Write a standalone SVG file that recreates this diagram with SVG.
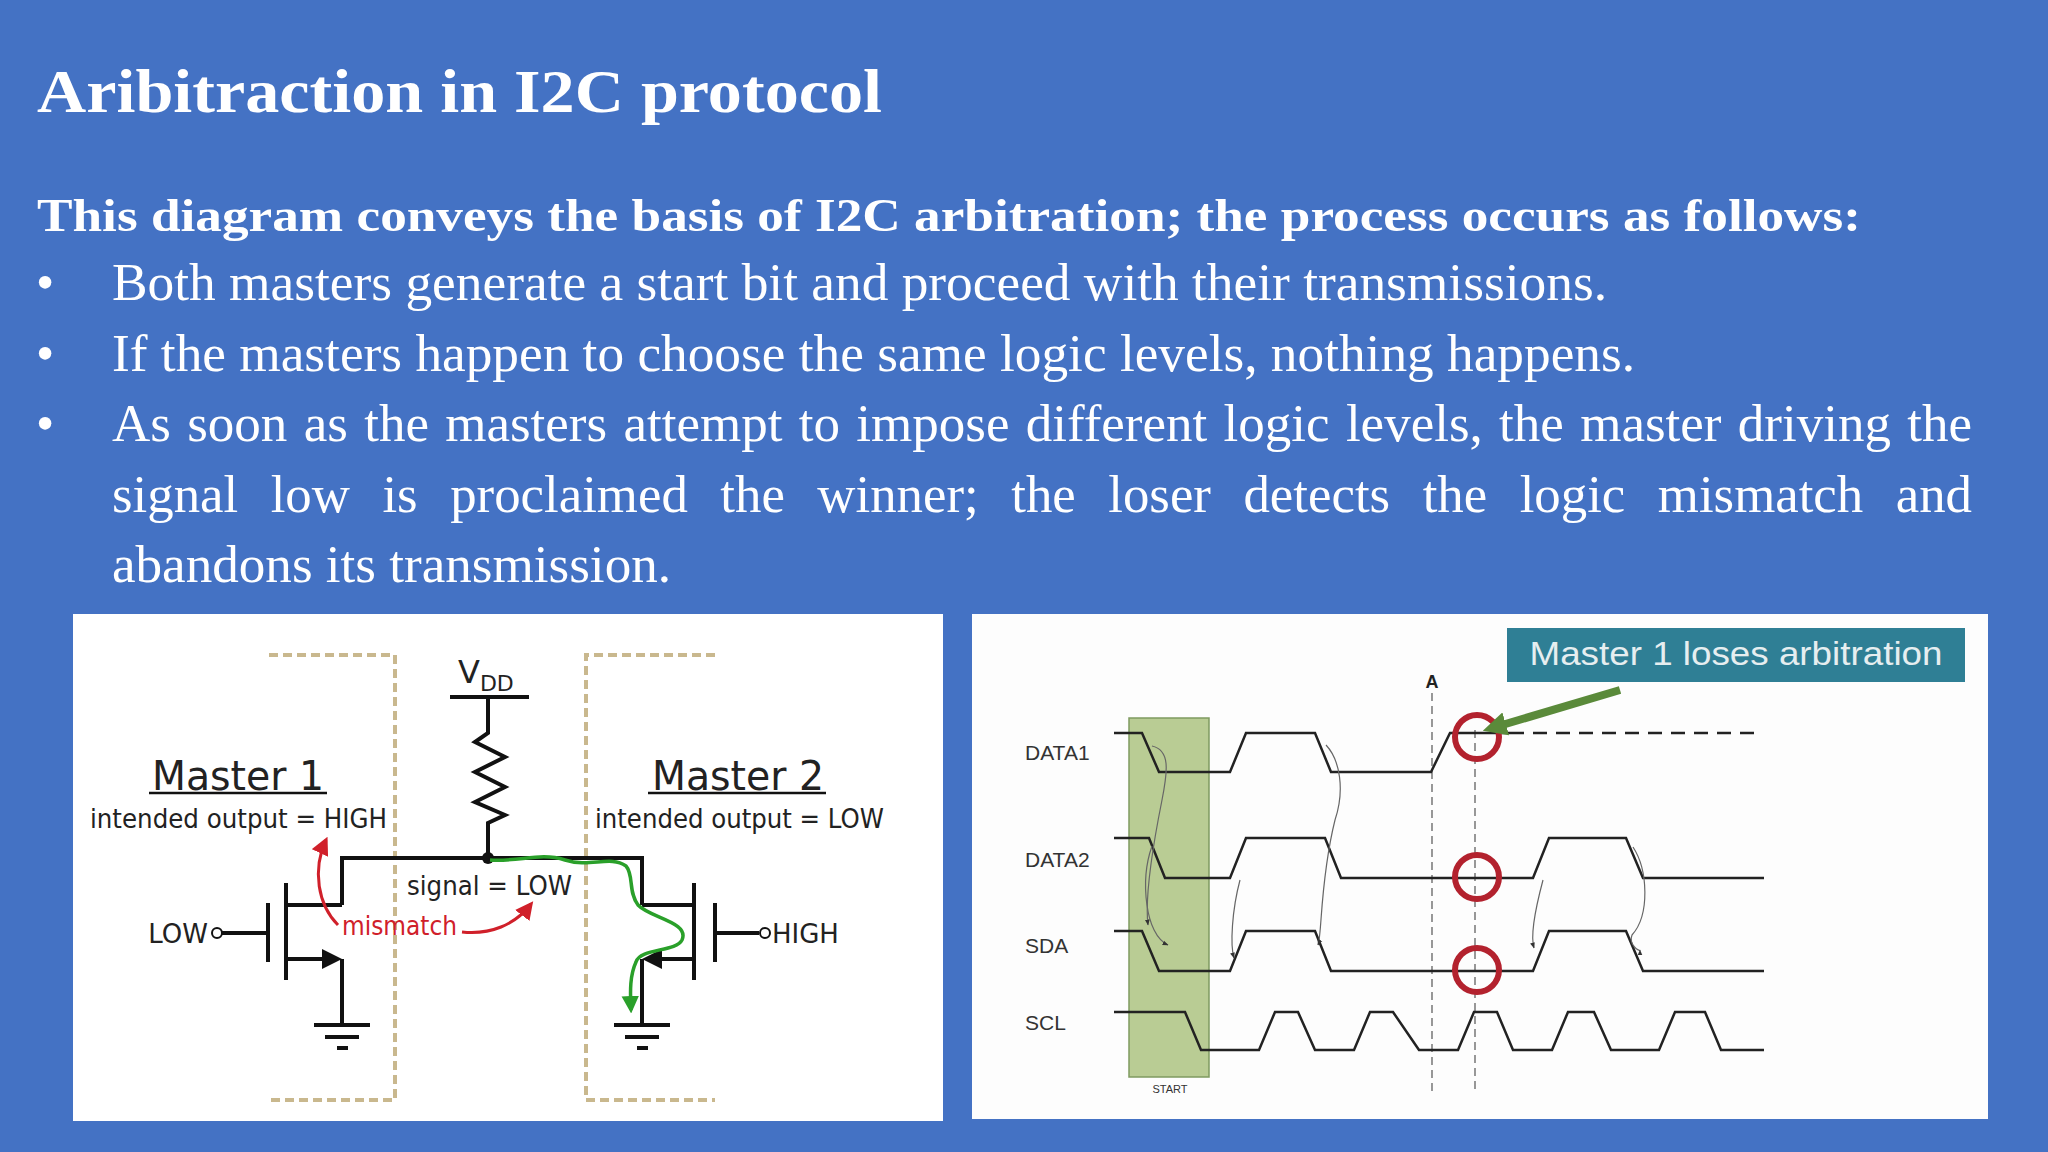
<svg xmlns="http://www.w3.org/2000/svg" width="2048" height="1152" viewBox="0 0 2048 1152">
<defs>
<style>
.ser{font-family:"Liberation Serif","Times New Roman",serif;fill:#fff}
.sch{font-family:"DejaVu Sans",Verdana,sans-serif;fill:#222}
.w{fill:none;stroke:#111;stroke-width:4}
.dash{fill:none;stroke:#c9b88e;stroke-width:4;stroke-dasharray:9 5}
.wave{fill:none;stroke:#222;stroke-width:2.5}
.thin{fill:none;stroke:#666;stroke-width:1.2;marker-end:url(#sa)}
.circ{fill:none;stroke:#b3222e;stroke-width:6}
.lab{font-family:"Liberation Sans",Arial,sans-serif;font-size:21px;fill:#333}
</style>
<marker id="ra" viewBox="0 0 10 10" refX="8" refY="5" markerWidth="6" markerHeight="6" orient="auto"><path d="M0,0L10,5L0,10z" fill="#d0202a"/></marker>
<marker id="ga" viewBox="0 0 10 10" refX="8" refY="5" markerWidth="5" markerHeight="6" orient="auto"><path d="M0,0L10,5L0,10z" fill="#2aa02a"/></marker>
<marker id="sa" viewBox="0 0 10 10" refX="9" refY="5" markerWidth="5" markerHeight="5" orient="auto"><path d="M0,1L10,5L0,9z" fill="#333"/></marker>
<marker id="gg" viewBox="0 0 10 10" refX="6" refY="5" markerWidth="3" markerHeight="3" orient="auto"><path d="M0,0L10,5L0,10z" fill="#5a8a3a"/></marker>
</defs>
<rect width="2048" height="1152" fill="#4472c4"/>
<g id="title"><text class="ser" x="37" y="112" font-size="61" font-weight="bold" textLength="845" lengthAdjust="spacingAndGlyphs">Aribitraction in I2C protocol</text></g>
<g id="body" font-size="52">
<text class="ser" x="37" y="231" font-size="47" font-weight="bold" textLength="1824" lengthAdjust="spacingAndGlyphs">This diagram conveys the basis of I2C arbitration; the process occurs as follows:</text>
<text class="ser" x="36" y="300">•</text><text class="ser" x="112" y="300" textLength="1495" lengthAdjust="spacingAndGlyphs">Both masters generate a start bit and proceed with their transmissions.</text>
<text class="ser" x="36" y="371">•</text><text class="ser" x="112" y="371" textLength="1523" lengthAdjust="spacingAndGlyphs">If the masters happen to choose the same logic levels, nothing happens.</text>
<text class="ser" x="36" y="441">•</text>
<text class="ser" x="112" y="441" word-spacing="3" textLength="1860" lengthAdjust="spacingAndGlyphs">As soon as the masters attempt to impose different logic levels, the master driving the</text>
<text class="ser" x="112" y="512" word-spacing="19" textLength="1860" lengthAdjust="spacingAndGlyphs">signal low is proclaimed the winner; the loser detects the logic mismatch and</text>
<text class="ser" x="112" y="582" textLength="559" lengthAdjust="spacingAndGlyphs">abandons its transmission.</text>
</g>
<g id="circuit">
<rect x="73" y="614" width="870" height="507" fill="#fff"/>
<path class="dash" d="M269,655H395V1100H269M715,655H586V1100H715"/>
<text class="sch" x="458" y="683" font-size="32">V<tspan font-size="22" dy="8">DD</tspan></text>
<path class="w" d="M450,697H529M488,697V733L475,742L505,757L475,772L505,787L475,802L505,815L488,823V858M342,905V858H642V905"/>
<circle cx="488" cy="858" r="6" fill="#111"/>
<path class="w" d="M286,905H342M286,883V980" stroke-width="5"/>
<path class="w" d="M268,903V962" stroke-width="5"/>
<path class="w" d="M222,933H268M286,959H330M342,959V1025M314,1025H370M325,1037H359M337,1048H348"/>
<path d="M322,949L342,959L322,969z" fill="#111"/>
<circle cx="217" cy="933" r="5" fill="#fff" stroke="#111" stroke-width="2"/>
<text class="sch" x="208" y="943" font-size="26" text-anchor="end">LOW</text>
<path class="w" d="M642,905H694M694,883V980" stroke-width="5"/>
<path class="w" d="M715,903V962" stroke-width="5"/>
<path class="w" d="M715,933H759M654,959H694M642,959V1025M614,1025H670M625,1037H659M637,1048H648"/>
<path d="M662,949L642,959L662,969z" fill="#111"/>
<circle cx="765" cy="933" r="5" fill="#fff" stroke="#111" stroke-width="2"/>
<text class="sch" x="772" y="943" font-size="26">HIGH</text>
<text class="sch" x="238" y="790" font-size="40" text-anchor="middle" textLength="172" lengthAdjust="spacingAndGlyphs">Master 1</text>
<path d="M149,793H327M648,793H826" stroke="#111" stroke-width="2.5"/>
<text class="sch" x="738" y="790" font-size="40" text-anchor="middle" textLength="172" lengthAdjust="spacingAndGlyphs">Master 2</text>
<text class="sch" x="90" y="828" font-size="26" textLength="297" lengthAdjust="spacingAndGlyphs">intended output = HIGH</text>
<text class="sch" x="595" y="828" font-size="26" textLength="289" lengthAdjust="spacingAndGlyphs">intended output = LOW</text>
<text class="sch" x="407" y="895" font-size="26" textLength="165" lengthAdjust="spacingAndGlyphs">signal = LOW</text>
<text class="sch" x="342" y="935" font-size="26" style="fill:#d0202a" textLength="115" lengthAdjust="spacingAndGlyphs">mismatch</text>
<path d="M338,925C318,905 312,870 326,840" fill="none" stroke="#d0202a" stroke-width="3" marker-end="url(#ra)"/>
<path d="M462,932C490,935 515,925 531,904" fill="none" stroke="#d0202a" stroke-width="3" marker-end="url(#ra)"/>
<path d="M490,860C520,862 540,852 565,860C590,868 610,855 626,866C634,875 628,892 638,905C650,918 690,922 682,940C676,952 640,948 636,962C630,975 630,990 631,1010" fill="none" stroke="#2aa02a" stroke-width="3.5" marker-end="url(#ga)"/>
</g>
<g id="timing">
<rect x="972" y="614" width="1016" height="505" fill="#fdfdfd"/>
<rect x="1129" y="718" width="80" height="359" fill="#b9cc94" stroke="#7f9a60" stroke-width="1.5"/>
<text x="1170" y="1093" font-family="Liberation Sans,Arial,sans-serif" font-size="11" fill="#333" text-anchor="middle">START</text>
<path d="M1432,693V1092M1475,730V1090" stroke="#555" stroke-width="1.2" stroke-dasharray="8 5" fill="none"/>
<text x="1432" y="688" font-family="Liberation Sans,Arial,sans-serif" font-size="18" font-weight="bold" fill="#222" text-anchor="middle">A</text>
<text class="lab" x="1025" y="760">DATA1</text>
<text class="lab" x="1025" y="867">DATA2</text>
<text class="lab" x="1025" y="953">SDA</text>
<text class="lab" x="1025" y="1030">SCL</text>
<path class="wave" d="M1114,733H1142L1159,772H1230L1246,733H1315L1331,772H1431L1450,733H1510"/>
<path class="wave" d="M1510,733H1757" stroke-dasharray="14 9"/>
<path class="wave" d="M1114,838H1149L1165,878H1230L1246,838H1325L1341,878H1533L1549,838H1626L1643,878H1764"/>
<path class="wave" stroke="#c9863e" stroke-width="2" d="M1114,931H1142L1159,971H1230L1246,931H1315L1331,971H1533L1549,931H1626L1643,971H1764"/>
<path class="wave" stroke="#555" stroke-width="2" d="M1114,1012H1185L1201,1050H1259L1275,1012H1298L1315,1050H1354L1370,1012H1393L1419,1050H1458L1474,1012H1497L1513,1050H1552L1568,1012H1594L1611,1050H1659L1675,1012H1705L1721,1050H1764"/>
<path class="thin" d="M1152,746C1170,750 1168,770 1162,800C1150,860 1145,900 1148,925"/>
<path class="thin" d="M1152,846C1140,880 1145,935 1168,945"/>
<path class="thin" d="M1240,880C1232,910 1230,945 1234,958"/>
<path class="thin" d="M1326,745C1340,760 1345,790 1335,820C1320,880 1322,935 1318,945"/>
<path class="thin" d="M1543,880C1535,910 1530,935 1534,948"/>
<path class="thin" d="M1633,847C1648,870 1650,915 1632,935C1628,945 1640,952 1640,950"/>
<circle class="circ" cx="1477" cy="737" r="22"/>
<circle class="circ" cx="1477" cy="877" r="22"/>
<circle class="circ" cx="1477" cy="970" r="22"/>
<path d="M1620,690L1492,728" stroke="#5a8a3a" stroke-width="8" marker-end="url(#gg)"/>
<rect x="1507" y="628" width="458" height="54" fill="#2f7f95"/>
<text x="1736" y="665" font-family="Liberation Sans,Arial,sans-serif" font-size="33" fill="#e6eef0" text-anchor="middle" textLength="413" lengthAdjust="spacingAndGlyphs">Master 1 loses arbitration</text>
</g>
</svg>
